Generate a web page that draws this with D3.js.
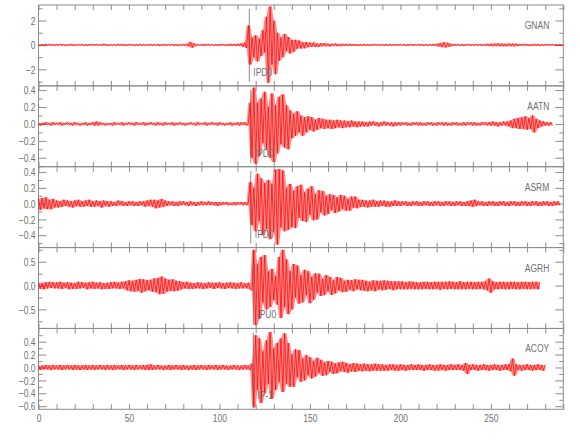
<!DOCTYPE html>
<html>
<head>
<meta charset="utf-8">
<script src="https://cdn.jsdelivr.net/npm/d3@7"></script>
<style>
body { margin: 0; background: #fff; }
svg text { font-family: "Liberation Sans", Arimo, sans-serif; font-size: 11.5px; }
</style>
</head>
<body>
<svg id="chart" width="580" height="440"></svg>
<script>
// station names, pick labels and pick times (s)
const stations = ["GNAN", "AATN", "ASRM", "AGRH", "ACOY"]
const picks = ["IPD0", "IPD0", "IPD0", "IPU0", "IP-1"]
const pickTimes = [116.5, 117.3, 117.3, 118.7, 118.7]

// y ranges and ticks of every panel
const yRanges = [[-3.35, 3.27], [-0.506, 0.45], [-0.557, 0.468], [-0.9, 0.797], [-0.648, 0.605]]
const yMajor = [[-2, 0, 2], [-0.4, -0.2, 0, 0.2, 0.4], [-0.4, -0.2, 0, 0.2, 0.4], [-0.5, 0, 0.5], [-0.6, -0.4, -0.2, 0, 0.2, 0.4]]
const yMinor = [[-3, -1, 1, 3], [-0.5, -0.3, -0.1, 0.1, 0.3], [-0.5, -0.3, -0.1, 0.1, 0.3], [-0.75, -0.25, 0.25, 0.75], [-0.5, -0.3, -0.1, 0.1, 0.3, 0.5]]
const yFormats = ["d", ".1f", ".1f", ".1f", ".1f"]
const xDomain = [0, 290]
const xLabels = [0, 50, 100, 150, 200, 250]

// traces: successive peaks, one per second
const sampleStep = 1

const gnan = [
0.06,-0.07,0.05,-0.08,0.07,-0.05,0.08,-0.06,0.05,-0.07,
0.07,-0.06,0.08,-0.05,0.06,-0.08,0.05,-0.07,0.08,-0.06,
0.05,-0.07,0.06,-0.05,0.08,-0.07,0.06,-0.08,0.07,-0.05,
0.08,-0.06,0.07,-0.05,0.06,-0.07,0.09,-0.06,0.05,-0.08,
0.06,-0.07,0.05,-0.06,0.08,-0.05,0.07,-0.08,0.06,-0.06,
0.07,-0.05,0.06,-0.08,0.05,-0.07,0.08,-0.06,0.06,-0.07,
0.05,-0.06,0.08,-0.07,0.06,-0.05,0.07,-0.08,0.05,-0.06,
0.08,-0.07,0.06,-0.05,0.07,-0.06,0.05,-0.08,0.06,-0.07,
0.07,-0.06,0.09,-0.12,0.25,-0.22,0.12,-0.07,0.06,-0.05,
0.06,-0.08,0.07,-0.05,0.08,-0.06,0.05,-0.07,0.06,-0.08,
0.07,-0.06,0.08,-0.07,0.06,-0.08,0.09,-0.07,0.08,-0.09,
0.1,-0.09,0.12,-0.15,0.2,-0.25,1.6,-1.6,0.6,-1.0,
0.8,-1.36,0.5,-0.9,1.2,-0.6,2.3,-3.1,3.15,-1.6,
2.0,-2.4,1.0,-1.3,0.6,-1.0,0.9,-0.5,0.65,-0.7,
0.4,-0.55,0.42,-0.3,0.36,-0.3,0.22,-0.28,0.25,-0.18,
0.19,-0.15,0.21,-0.17,0.12,-0.16,0.14,-0.11,0.15,-0.11,
0.1,-0.13,0.1,-0.08,0.12,-0.1,0.08,-0.1,0.09,-0.08,
0.08,-0.07,0.09,-0.08,0.07,-0.08,0.06,-0.08,0.07,-0.06,
0.08,-0.07,0.06,-0.08,0.07,-0.06,0.08,-0.05,0.07,-0.07,
0.06,-0.08,0.07,-0.06,0.08,-0.07,0.05,-0.07,0.08,-0.06,
0.07,-0.05,0.06,-0.08,0.07,-0.06,0.08,-0.07,0.06,-0.05,
0.08,-0.07,0.06,-0.08,0.05,-0.07,0.07,-0.06,0.08,-0.08,
0.1,-0.12,0.15,-0.18,0.22,-0.2,0.17,-0.14,0.1,-0.08,
0.07,-0.06,0.08,-0.07,0.06,-0.08,0.07,-0.05,0.08,-0.06,
0.06,-0.07,0.08,-0.06,0.07,-0.08,0.05,-0.07,0.09,-0.08,
0.1,-0.11,0.12,-0.1,0.13,-0.11,0.12,-0.12,0.1,-0.11,
0.12,-0.1,0.11,-0.12,0.1,-0.09,0.08,-0.07,0.08,-0.06,
0.07,-0.08,0.06,-0.07,0.08,-0.06,0.07,-0.08,0.06,-0.07,
0.08,-0.06,0.07,-0.05,0.08,-0.07,0.06,-0.08,0.07,-0.06,
0.05]

const aatn = [
0.01,-0.02,0.01,-0.01,0.02,-0.01,0.01,-0.02,0.02,-0.01,
0.01,-0.01,0.02,-0.02,0.01,-0.01,0.02,-0.01,0.01,-0.02,
0.02,-0.01,0.01,-0.02,0.01,-0.01,0.02,-0.02,0.01,-0.01,
0.02,-0.02,0.03,-0.02,0.02,-0.01,0.01,-0.02,0.01,-0.01,
0.01,-0.02,0.02,-0.01,0.01,-0.01,0.02,-0.02,0.01,-0.01,
0.02,-0.01,0.01,-0.02,0.02,-0.01,0.01,-0.01,0.02,-0.02,
0.01,-0.01,0.02,-0.01,0.01,-0.02,0.02,-0.01,0.01,-0.02,
0.02,-0.01,0.01,-0.01,0.02,-0.02,0.01,-0.01,0.02,-0.01,
0.01,-0.02,0.01,-0.01,0.02,-0.01,0.01,-0.02,0.02,-0.01,
0.01,-0.01,0.02,-0.02,0.01,-0.01,0.02,-0.01,0.01,-0.02,
0.02,-0.01,0.01,-0.02,0.01,-0.01,0.02,-0.02,0.01,-0.01,
0.02,-0.02,0.02,-0.01,0.02,-0.02,0.01,0.25,-0.4,0.43,
-0.47,0.25,-0.38,0.3,-0.22,0.38,-0.3,0.2,-0.4,0.36,
-0.45,0.22,-0.35,0.32,-0.24,0.35,-0.28,0.22,-0.3,0.16,
-0.17,0.12,-0.14,0.15,-0.1,0.1,-0.14,0.08,-0.1,0.09,
-0.07,0.08,-0.09,0.05,-0.07,0.07,-0.05,0.06,-0.06,0.05,
-0.05,0.05,-0.06,0.04,-0.05,0.05,-0.04,0.04,-0.05,0.04,
-0.04,0.03,-0.04,0.04,-0.03,0.03,-0.04,0.03,-0.03,0.03,
-0.03,0.02,-0.03,0.03,-0.02,0.03,-0.02,0.02,-0.03,0.02,
-0.02,0.03,-0.02,0.02,-0.02,0.02,-0.03,0.02,-0.02,0.02,
-0.02,0.02,-0.01,0.02,-0.02,0.01,-0.02,0.02,-0.01,0.02,
-0.02,0.02,-0.02,0.01,-0.02,0.02,-0.01,0.02,-0.02,0.01,
-0.02,0.02,-0.01,0.02,-0.02,0.02,-0.02,0.01,-0.02,0.02,
-0.01,0.02,-0.02,0.01,-0.02,0.02,-0.02,0.02,-0.01,0.02,
-0.02,0.02,-0.02,0.01,-0.02,0.02,-0.01,0.02,-0.02,0.02,
-0.02,0.03,-0.02,0.02,-0.03,0.02,-0.02,0.03,-0.02,0.03,
-0.03,0.04,-0.05,0.06,-0.05,0.07,-0.06,0.08,-0.06,0.09,
-0.07,0.07,-0.06,0.1,-0.1,0.06,-0.05,0.04,-0.03,0.03,
-0.02,0.02,-0.02,0.02,-0.02]

const asrm = [
0.06,-0.08,0.07,-0.06,0.08,-0.07,0.05,-0.07,0.06,-0.05,
0.04,-0.05,0.03,-0.04,0.05,-0.03,0.04,-0.04,0.03,-0.05,
0.04,-0.03,0.05,-0.04,0.03,-0.04,0.04,-0.03,0.05,-0.04,
0.03,-0.04,0.04,-0.03,0.03,-0.05,0.04,-0.03,0.03,-0.04,
0.03,-0.03,0.02,-0.03,0.04,-0.02,0.03,-0.03,0.02,-0.03,
0.03,-0.02,0.03,-0.03,0.02,-0.03,0.03,-0.02,0.03,-0.04,
0.04,-0.03,0.05,-0.04,0.05,-0.06,0.04,-0.05,0.06,-0.04,
0.04,-0.03,0.03,-0.02,0.03,-0.03,0.02,-0.03,0.03,-0.02,
0.03,-0.02,0.02,-0.03,0.03,-0.02,0.02,-0.03,0.02,-0.02,
0.03,-0.02,0.02,-0.02,0.03,-0.02,0.02,-0.02,0.02,-0.03,
0.02,-0.02,0.02,-0.01,0.02,-0.02,0.01,-0.02,0.02,-0.02,
0.02,-0.01,0.02,-0.02,0.02,-0.02,0.02,0.27,-0.27,0.2,
-0.35,0.38,-0.22,0.32,-0.4,0.26,-0.32,0.3,-0.45,0.25,
-0.35,0.43,-0.52,0.44,-0.3,0.42,-0.35,0.2,-0.33,0.25,
-0.3,0.16,-0.31,0.22,-0.18,0.24,-0.22,0.14,-0.23,0.19,
-0.14,0.22,-0.21,0.12,-0.2,0.17,-0.11,0.16,-0.15,0.1,
-0.13,0.12,-0.08,0.11,-0.12,0.08,-0.1,0.11,-0.07,0.1,
-0.09,0.06,-0.09,0.09,-0.05,0.09,-0.06,0.05,-0.04,0.05,
-0.04,0.04,-0.05,0.04,-0.04,0.05,-0.04,0.03,-0.04,0.04,
-0.03,0.04,-0.04,0.03,-0.04,0.03,-0.03,0.04,-0.03,0.03,
-0.03,0.03,-0.02,0.03,-0.03,0.02,-0.03,0.03,-0.02,0.03,
-0.03,0.02,-0.03,0.03,-0.02,0.03,-0.03,0.02,-0.03,0.03,
-0.02,0.03,-0.03,0.02,-0.03,0.03,-0.02,0.03,-0.03,0.02,
-0.03,0.03,-0.02,0.03,-0.03,0.02,-0.03,0.03,-0.03,0.04,
-0.04,0.05,-0.03,0.03,-0.02,0.03,-0.03,0.02,-0.03,0.03,
-0.02,0.03,-0.03,0.02,-0.03,0.03,-0.02,0.03,-0.03,0.02,
-0.03,0.03,-0.02,0.03,-0.03,0.02,-0.03,0.03,-0.02,0.03,
-0.03,0.02,-0.03,0.03,-0.02,0.03,-0.03,0.02,-0.03,0.03,
-0.02,0.03,-0.03,0.02,-0.03,0.03,-0.02,0.03,-0.02]

const agrh = [
0.06,-0.07,0.05,-0.08,0.07,-0.06,0.08,-0.05,0.07,-0.06,
0.07,-0.06,0.08,-0.07,0.06,-0.05,0.07,-0.08,0.06,-0.07,
0.05,-0.07,0.08,-0.06,0.07,-0.05,0.06,-0.08,0.07,-0.06,
0.08,-0.07,0.06,-0.06,0.07,-0.08,0.05,-0.07,0.06,-0.07,
0.07,-0.06,0.08,-0.06,0.06,-0.07,0.08,-0.06,0.09,-0.1,
0.11,-0.12,0.1,-0.13,0.12,-0.11,0.14,-0.15,0.13,-0.12,
0.11,-0.1,0.12,-0.13,0.15,-0.14,0.16,-0.18,0.19,-0.17,
0.15,-0.13,0.12,-0.11,0.13,-0.12,0.1,-0.11,0.09,-0.08,
0.07,-0.06,0.08,-0.07,0.06,-0.07,0.05,-0.06,0.07,-0.06,
0.06,-0.07,0.05,-0.06,0.07,-0.05,0.06,-0.07,0.06,-0.05,
0.07,-0.06,0.05,-0.07,0.06,-0.05,0.07,-0.06,0.06,-0.07,
0.05,-0.06,0.07,-0.06,0.05,-0.06,0.06,-0.07,-0.1,0.75,
-0.83,0.45,-0.7,0.6,-0.35,0.64,-0.5,0.3,-0.45,0.35,
-0.3,0.2,-0.4,0.6,-0.68,0.75,-0.45,0.55,-0.6,0.3,
-0.5,0.45,-0.25,0.42,-0.38,0.22,-0.35,0.33,-0.2,0.3,
-0.37,0.18,-0.3,0.26,-0.15,0.25,-0.22,0.14,-0.2,0.22,
-0.12,0.18,-0.2,0.11,-0.16,0.18,-0.1,0.16,-0.14,0.1,
-0.13,0.12,-0.09,0.11,-0.12,0.13,-0.08,0.12,-0.1,0.12,
-0.11,0.1,-0.12,0.08,-0.1,0.11,-0.12,0.1,-0.08,0.1,
-0.1,0.11,-0.09,0.1,-0.07,0.09,-0.1,0.09,-0.08,0.09,
-0.08,0.09,-0.08,0.07,-0.08,0.09,-0.07,0.08,-0.08,0.07,
-0.08,0.07,-0.08,0.08,-0.07,0.08,-0.08,0.07,-0.08,0.08,
-0.07,0.08,-0.09,0.08,-0.07,0.08,-0.08,0.09,-0.07,0.08,
-0.08,0.07,-0.08,0.09,-0.08,0.07,-0.08,0.08,-0.07,0.08,
-0.08,0.07,-0.08,0.08,-0.07,0.08,-0.08,0.09,-0.1,0.15,
-0.15,0.09,-0.08,0.07,-0.08,0.08,-0.07,0.08,-0.08,0.07,
-0.08,0.08,-0.07,0.08,-0.08,0.07,-0.08,0.08,-0.07,0.08,
-0.08,0.07,-0.08,0.08,-0.07,0.08,-0.08,0.07]

const acoy = [
0.03,-0.04,0.03,-0.03,0.04,-0.03,0.03,-0.04,0.04,-0.03,
0.03,-0.03,0.04,-0.04,0.03,-0.03,0.04,-0.03,0.03,-0.04,
0.04,-0.03,0.03,-0.04,0.03,-0.03,0.04,-0.04,0.03,-0.03,
0.04,-0.04,0.03,-0.03,0.04,-0.03,0.03,-0.04,0.04,-0.03,
0.03,-0.04,0.04,-0.03,0.03,-0.03,0.04,-0.04,0.03,-0.03,
0.04,-0.03,0.03,-0.04,0.04,-0.03,0.03,-0.03,0.04,-0.04,
0.04,-0.04,0.05,-0.04,0.03,-0.03,0.04,-0.03,0.03,-0.04,
0.03,-0.03,0.04,-0.04,0.03,-0.03,0.04,-0.03,0.03,-0.04,
0.04,-0.03,0.03,-0.04,0.03,-0.03,0.04,-0.04,0.03,-0.03,
0.04,-0.03,0.03,-0.04,0.04,-0.03,0.03,-0.03,0.04,-0.04,
0.03,-0.03,0.04,-0.03,0.03,-0.04,0.03,-0.03,0.04,-0.03,
0.03,-0.04,0.03,-0.03,0.04,-0.03,0.03,-0.04,0.06,-0.62,
0.5,-0.35,0.45,-0.55,0.25,-0.4,0.42,-0.25,0.55,-0.48,
0.3,-0.35,0.38,-0.22,0.45,-0.38,0.53,-0.25,0.38,-0.3,
0.2,-0.3,0.28,-0.15,0.27,-0.22,0.14,-0.2,0.19,-0.12,
0.16,-0.17,0.1,-0.14,0.15,-0.09,0.12,-0.13,0.08,-0.12,
0.1,-0.07,0.09,-0.1,0.06,-0.09,0.08,-0.06,0.09,-0.07,
0.07,-0.08,0.05,-0.06,0.07,-0.07,0.06,-0.05,0.05,-0.06,
0.06,-0.05,0.05,-0.06,0.05,-0.05,0.06,-0.05,0.05,-0.05,
0.05,-0.05,0.04,-0.05,0.05,-0.04,0.05,-0.05,0.04,-0.05,
0.05,-0.04,0.04,-0.05,0.04,-0.04,0.05,-0.04,0.04,-0.04,
0.05,-0.04,0.04,-0.05,0.04,-0.04,0.05,-0.04,0.04,-0.05,
0.04,-0.05,0.05,-0.04,0.04,-0.05,0.04,-0.04,0.05,-0.04,
0.04,-0.04,0.05,-0.04,0.04,-0.05,0.07,-0.1,0.04,-0.04,
0.05,-0.04,0.04,-0.05,0.04,-0.04,0.05,-0.04,0.04,-0.05,
0.04,-0.04,0.05,-0.04,0.04,-0.05,0.04,-0.04,0.05,-0.04,
0.05,-0.06,0.14,-0.13,0.05,-0.04,0.04,-0.05,0.04,-0.04,
0.05,-0.04,0.04,-0.05,0.04,-0.04,0.05,-0.04,0.04,-0.05,0.04]

const traces = [gnan, aatn, asrm, agrh, acoy]

// layout
const left = 38.5, right = 563.3
const top0 = 5, panelH = 80.86
const axisGray = "#8c8c8c"
const textGray = "#707070"
const squeeze = "scale(0.74,1)"   // narrow plot font

const svg = d3.select("#chart")

const x = d3.scaleLinear().domain(xDomain).range([left, right])

const narrowText = function (sel, tx, ty) {
    sel.attr("transform", "translate(" + tx + "," + ty + ") " + squeeze)
        .style("fill", textGray)
}

traces.forEach(function (trace, i) {
    const top = top0 + panelH * i
    const bottom = top + panelH
    const y = d3.scaleLinear().domain(yRanges[i]).range([bottom, top])
    const g = svg.append("g").attr("class", "panel")

    // frame
    g.append("rect")
        .attr("x", left)
        .attr("y", top)
        .attr("width", right - left)
        .attr("height", panelH)
        .attr("fill", "none")
        .attr("stroke", axisGray)
        .attr("stroke-width", 1)

    const addAxis = function (axis, tx, ty) {
        const a = g.append("g")
            .attr("transform", "translate(" + tx + "," + ty + ")")
            .call(axis)
        a.select(".domain").remove()
        a.selectAll(".tick line").style("stroke", axisGray)
        a.selectAll(".tick text").style("fill", textGray)
            .attr("transform", squeeze)
        return a
    }

    // y axes, ticks pointing inward
    const fmt = d3.format(yFormats[i])
    addAxis(d3.axisLeft(y).tickValues(yMajor[i]).tickSizeInner(-8).tickSizeOuter(0).tickPadding(4).tickFormat(fmt), left, 0)
    addAxis(d3.axisLeft(y).tickValues(yMinor[i]).tickSizeInner(-4).tickSizeOuter(0).tickFormat(""), left, 0)
    addAxis(d3.axisRight(y).tickValues(yMajor[i]).tickSizeInner(-8).tickSizeOuter(0).tickFormat(""), right, 0)
    addAxis(d3.axisRight(y).tickValues(yMinor[i]).tickSizeInner(-4).tickSizeOuter(0).tickFormat(""), right, 0)

    // x ticks every 10 s, top and bottom
    addAxis(d3.axisTop(x).ticks(29).tickSizeInner(-5).tickSizeOuter(0).tickFormat(""), 0, top)
    const bottomAxis = d3.axisBottom(x).ticks(29).tickSizeInner(-5).tickSizeOuter(0).tickPadding(5)
    if (i === traces.length - 1) {
        bottomAxis.tickFormat(function (d) { return xLabels.indexOf(d) >= 0 ? d : "" })
    } else {
        bottomAxis.tickFormat("")
    }
    addAxis(bottomAxis, 0, bottom)

    // pick marker
    const px = x(pickTimes[i])
    g.append("line")
        .attr("x1", px).attr("x2", px)
        .attr("y1", top + 4).attr("y2", bottom - 4)
        .attr("stroke", axisGray)
        .attr("stroke-width", 1)

    // pale band between neighbouring peaks, then the trace itself
    const band = d3.area()
        .x(function (d, k) { return x(k * sampleStep) })
        .y0(function (d, k) { return y(Math.min(d, trace[k - 1] || 0, trace[k + 1] || 0)) })
        .y1(function (d, k) { return y(Math.max(d, trace[k - 1] || 0, trace[k + 1] || 0)) })
    g.append("path")
        .datum(trace)
        .attr("d", band)
        .attr("fill", "#ff0000")
        .attr("fill-opacity", 0.45)

    const line = d3.line()
        .x(function (d, k) { return x(k * sampleStep) })
        .y(function (d) { return y(d) })
    g.append("path")
        .datum(trace)
        .attr("d", line)
        .attr("fill", "none")
        .attr("stroke", "#ff0000")
        .attr("stroke-width", 0.7)

    g.append("text")
        .text(picks[i])
        .call(narrowText, px + 4, bottom - 10)

    g.append("text")
        .attr("text-anchor", "end")
        .text(stations[i])
        .call(narrowText, right - 14, top + 24)
})
</script>
</body>
</html>
